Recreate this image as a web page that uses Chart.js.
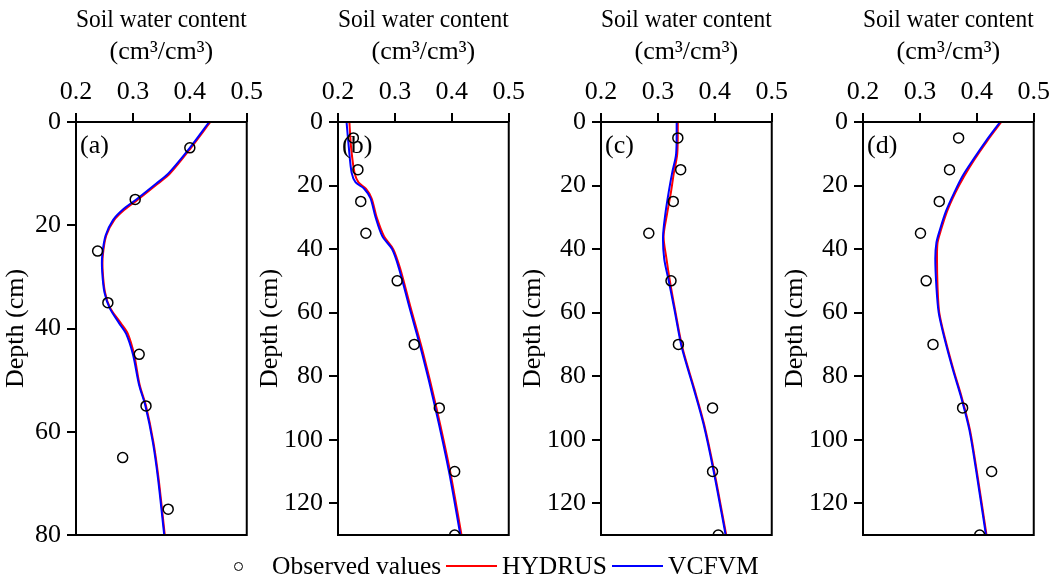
<!DOCTYPE html>
<html>
<head>
<meta charset="utf-8">
<script src="https://cdn.jsdelivr.net/npm/chart.js@4.4.0/dist/chart.umd.min.js"></script>
<style>
  body { margin: 0; background: #fff; width: 1056px; height: 579px; position: relative; overflow: hidden; font-family: 'Liberation Serif', 'Times New Roman', serif; color: #000; }
  .panel { position: absolute; top: 0; }
  .key { position: absolute; top: 552px; height: 28px; line-height: 28px; font-size: 25.5px; white-space: nowrap; }
  .dot { position: absolute; left: 234px; top: 562px; width: 9px; height: 9px; border: 1.5px solid #000; border-radius: 50%; box-sizing: border-box; }
  .swatch { position: absolute; top: 565px; width: 51px; height: 2px; }
</style>
</head>
<body>
<canvas class="panel" id="panelA" width="268" height="579" style="left:0px"></canvas>
<canvas class="panel" id="panelB" width="276" height="579" style="left:254px"></canvas>
<canvas class="panel" id="panelC" width="276" height="579" style="left:517px"></canvas>
<canvas class="panel" id="panelD" width="276" height="579" style="left:779px"></canvas>

<div class="dot"></div>
<div class="key" style="left:272px">Observed values</div>
<div class="swatch" style="left:446px;background:#ff0000"></div>
<div class="key" style="left:502px">HYDRUS</div>
<div class="swatch" style="left:612px;background:#0000ff"></div>
<div class="key" style="left:668px">VCFVM</div>

<script>
// axis ticks
const swcTicks = [0.2, 0.3, 0.4, 0.5];
const depthTicksA = [0, 20, 40, 60, 80];
const depthTicksDeep = [0, 20, 40, 60, 80, 100, 120];

// observed profiles
const obsDepthA = [5, 15, 25, 35, 45, 55, 65, 75];
const obsDepthDeep = [5, 15, 25, 35, 50, 70, 90, 110, 130];
const obsA = [0.400, 0.304, 0.238, 0.256, 0.311, 0.323, 0.282, 0.362];
const obsB = [0.227, 0.235, 0.240, 0.249, 0.304, 0.334, 0.378, 0.405, 0.405];
const obsC = [0.335, 0.340, 0.327, 0.284, 0.323, 0.336, 0.396, 0.396, 0.406];
const obsD = [0.368, 0.352, 0.334, 0.301, 0.311, 0.323, 0.375, 0.426, 0.405];

// simulated profiles
const simDepthA = [0, 5, 10, 12, 15, 17, 19, 22, 26, 29, 33, 36, 39, 41, 45, 51, 55, 62, 69, 80];
const hydrusA = [0.436, 0.402, 0.365, 0.343, 0.309, 0.285, 0.267, 0.253, 0.247, 0.247, 0.251, 0.260, 0.279, 0.291, 0.302, 0.312, 0.323, 0.336, 0.345, 0.356];
const vcfvmA = [0.434, 0.400, 0.362, 0.340, 0.306, 0.282, 0.265, 0.252, 0.246, 0.246, 0.250, 0.259, 0.276, 0.288, 0.300, 0.311, 0.322, 0.335, 0.344, 0.355];

const simDepthB = [0, 8, 16, 19, 21, 24, 30, 36, 40, 46, 58, 73, 90, 110, 130];
const hydrusB = [0.220, 0.223, 0.229, 0.236, 0.249, 0.259, 0.268, 0.281, 0.297, 0.309, 0.327, 0.350, 0.373, 0.397, 0.417];
const vcfvmB = [0.215, 0.219, 0.224, 0.231, 0.246, 0.257, 0.266, 0.278, 0.295, 0.307, 0.325, 0.348, 0.371, 0.395, 0.415];

const simDepthC = [0, 10, 16, 22, 29, 36, 43, 50, 59, 71, 84, 95, 110, 130];
const hydrusC = [0.335, 0.334, 0.328, 0.323, 0.316, 0.310, 0.315, 0.321, 0.330, 0.343, 0.364, 0.381, 0.399, 0.420];
const vcfvmC = [0.333, 0.332, 0.325, 0.319, 0.313, 0.309, 0.311, 0.319, 0.329, 0.342, 0.363, 0.380, 0.398, 0.419];

const simDepthD = [0, 6, 12, 17, 22, 28, 34, 38, 43, 52, 60, 68, 78, 87, 97, 110, 130];
const hydrusD = [0.443, 0.418, 0.395, 0.378, 0.363, 0.348, 0.337, 0.331, 0.330, 0.331, 0.334, 0.344, 0.359, 0.374, 0.388, 0.400, 0.417];
const vcfvmD = [0.441, 0.416, 0.393, 0.375, 0.361, 0.346, 0.335, 0.329, 0.327, 0.329, 0.333, 0.343, 0.358, 0.373, 0.387, 0.399, 0.416];

Chart.defaults.font.family = "'Liberation Serif', 'Times New Roman', serif";
Chart.defaults.font.size = 26;
Chart.defaults.color = '#000';

function pairs(xs, ys) {
    return xs.map((x, i) => ({ x: x, y: ys[i] }));
}

// frame around the plot area plus the panel tag
const framePlugin = {
    id: 'frame',
    afterDatasetsDraw(chart, args, opts) {
        const a = chart.chartArea;
        const ctx = chart.ctx;
        ctx.save();
        ctx.strokeStyle = '#000';
        ctx.lineWidth = 2;
        ctx.strokeRect(a.left, a.top, a.right - a.left, a.bottom - a.top);
        ctx.font = "26px 'Liberation Serif'";
        ctx.fillStyle = '#000';
        ctx.textBaseline = 'middle';
        ctx.fillText(opts.tag, a.left + 4, a.top + 24);
        ctx.restore();
    }
};

function makePanel(id, tag, depthMax, depthTicks, yWidth, obsDepth, obs, simDepth, hydrus, vcfvm) {
    new Chart(document.getElementById(id), {
        type: 'scatter',
        data: {
            datasets: [
                {
                    label: 'Observed values',
                    data: pairs(obs, obsDepth),
                    showLine: false,
                    pointRadius: 5,
                    pointBorderWidth: 1.5,
                    pointBorderColor: '#000',
                    pointBackgroundColor: 'rgba(0,0,0,0)'
                },
                {
                    label: 'VCFVM',
                    data: pairs(vcfvm, simDepth),
                    showLine: true,
                    borderColor: '#0000ff',
                    borderWidth: 2,
                    pointRadius: 0,
                    tension: 0.3
                },
                {
                    label: 'HYDRUS',
                    data: pairs(hydrus, simDepth),
                    showLine: true,
                    borderColor: '#ff0000',
                    borderWidth: 2,
                    pointRadius: 0,
                    tension: 0.3
                }
            ]
        },
        options: {
            responsive: false,
            animation: false,
            layout: { padding: { top: 0, right: 20, bottom: 44, left: 0 } },
            scales: {
                x: {
                    type: 'linear',
                    position: 'top',
                    min: 0.2,
                    max: 0.5,
                    afterBuildTicks: (scale) => { scale.ticks = swcTicks.map(v => ({ value: v })); },
                    afterFit: (scale) => { scale.height = 122; },
                    ticks: { padding: 5, maxRotation: 0 },
                    grid: { drawOnChartArea: false, tickLength: 9, color: '#000', lineWidth: 2 },
                    border: { display: false },
                    title: {
                        display: true,
                        text: ['Soil water content', '(cm³/cm³)'],
                        font: { size: 26, lineHeight: 1.23 },
                        padding: { top: 4, bottom: 0 }
                    }
                },
                y: {
                    type: 'linear',
                    reverse: true,
                    min: 0,
                    max: depthMax,
                    afterBuildTicks: (scale) => { scale.ticks = depthTicks.map(v => ({ value: v })); },
                    afterFit: (scale) => { scale.width = yWidth; },
                    ticks: { padding: 6 },
                    grid: { drawOnChartArea: false, tickLength: 9, color: '#000', lineWidth: 2 },
                    border: { display: false },
                    title: {
                        display: true,
                        text: 'Depth (cm)',
                        font: { size: 26, lineHeight: 1.2 },
                        padding: { top: 1, bottom: 0 }
                    }
                }
            },
            plugins: {
                legend: { display: false },
                tooltip: { enabled: false },
                frame: { tag: tag }
            }
        },
        plugins: [framePlugin]
    });
}

makePanel('panelA', '(a)', 80, depthTicksA, 76, obsDepthA, obsA, simDepthA, hydrusA, vcfvmA);
makePanel('panelB', '(b)', 130, depthTicksDeep, 84, obsDepthDeep, obsB, simDepthB, hydrusB, vcfvmB);
makePanel('panelC', '(c)', 130, depthTicksDeep, 84, obsDepthDeep, obsC, simDepthC, hydrusC, vcfvmC);
makePanel('panelD', '(d)', 130, depthTicksDeep, 84, obsDepthDeep, obsD, simDepthD, hydrusD, vcfvmD);
</script>
</body>
</html>
